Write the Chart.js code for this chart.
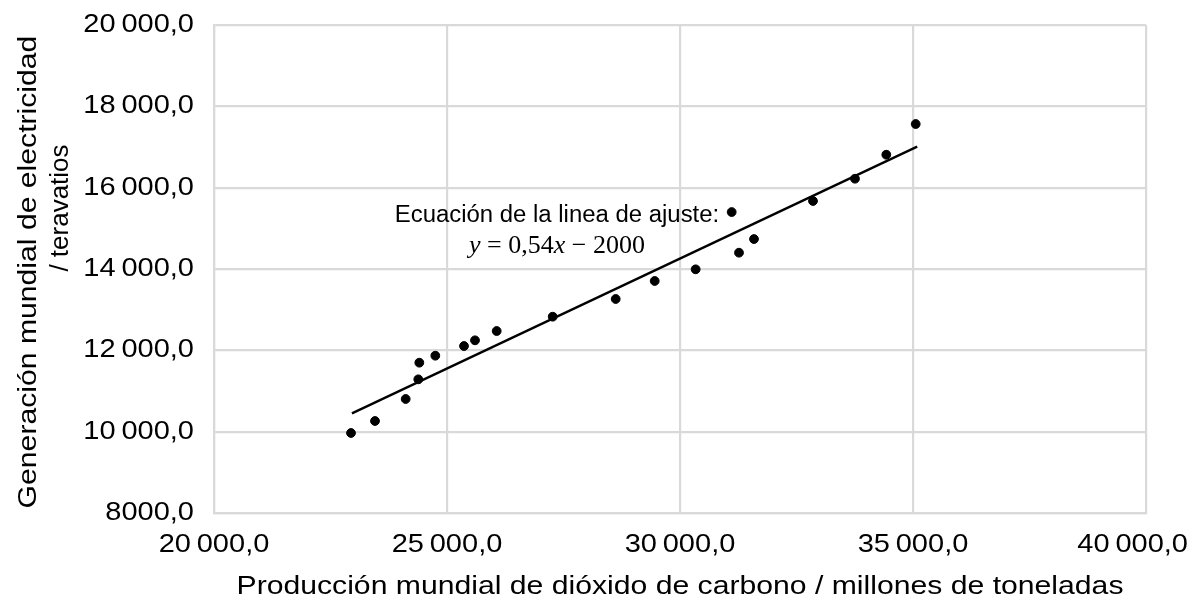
<!DOCTYPE html>
<html><head><meta charset="utf-8">
<script src="https://cdn.jsdelivr.net/npm/chart.js@4.4.0/dist/chart.umd.min.js"></script>
<style>html,body{margin:0;padding:0;background:#fff}#wrap{width:1196px;height:598px;position:relative}</style>
</head><body><div id="wrap"><canvas id="c" width="1196" height="598"></canvas></div>
<script>
// ---- data ----
const co2 = [22940, 23455, 24113, 24384, 24406, 24749, 25365, 25601, 26066, 27268, 28620, 29457, 30336, 31109, 31266, 31588, 32854, 33755, 34427, 35058];
const electricity = [9967, 10262, 10803, 11287, 11696, 11868, 12106, 12246, 12475, 12827, 13262, 13705, 13992, 15401, 14401, 14737, 15672, 16220, 16810, 17565];
const fitX = [22960, 35090];
const fitY = [10450, 17010];
const xTicks = [20000, 25000, 30000, 35000, 40000];
const yTicks = [8000, 10000, 12000, 14000, 16000, 18000, 20000];
const xTitle = 'Producción mundial de dióxido de carbono / millones de toneladas';
const yTitle = ['Generación mundial de electricidad', '/ teravatios'];
const noteLabel = 'Ecuación de la linea de ajuste:';
const noteEquation = [['y', true], [' = 0,54', false], ['x', true], [' \u2212 2000', false]];
const noteAnchor = { x: 27360, labelY: 15155, eqY: 14400 };

const SANS = '"Liberation Sans", Arial, sans-serif';
const SERIF = '"Liberation Serif", "Times New Roman", serif';
const GRID = '#d9d9d9';

// ---- wide text rendering (reference text is horizontally stretched) ----
const canvas = document.getElementById('c');
const g = canvas.getContext('2d');
let STRETCH = 1.16;
const EDGE = 8;
const origFill = g.fillText.bind(g);
const origMeasure = g.measureText.bind(g);
g.fillText = function (text, x, y) {
  const t = g.getTransform();
  if (t.b === 0 && t.c === 0 && g.textAlign === 'center') {
    const w = origMeasure(text).width * STRETCH;
    const maxX = canvas.width - EDGE - w / 2;
    if (t.e + x > maxX) x = maxX - t.e;
  }
  if (STRETCH === 1) { origFill(text, x, y); return; }
  g.save();
  g.translate(x, y);
  g.scale(STRETCH, 1);
  origFill(text, 0, 0);
  g.restore();
};
g.measureText = function (text) {
  const m = origMeasure(text);
  return {
    width: m.width * STRETCH,
    actualBoundingBoxAscent: m.actualBoundingBoxAscent,
    actualBoundingBoxDescent: m.actualBoundingBoxDescent,
    actualBoundingBoxLeft: m.actualBoundingBoxLeft * STRETCH,
    actualBoundingBoxRight: m.actualBoundingBoxRight * STRETCH,
    fontBoundingBoxAscent: m.fontBoundingBoxAscent,
    fontBoundingBoxDescent: m.fontBoundingBoxDescent
  };
};

function fmt(v) {
  const n = Math.round(v);
  let s = String(n);
  if (n >= 10000) s = s.replace(/\B(?=(\d{3})+(?!\d))/g, '\u2009');
  return s + ',0';
}

const textPlugin = {
  id: 'texts',
  afterDraw(chart) {
    const ctx = chart.ctx;
    const xs = chart.scales.x, ys = chart.scales.y;
    const ca = chart.chartArea;
    ctx.save();
    ctx.fillStyle = '#000';
    // x title
    STRETCH = 1.16;
    ctx.font = '26px ' + SANS;
    ctx.textAlign = 'center';
    ctx.textBaseline = 'alphabetic';
    ctx.fillText(xTitle, (ca.left + ca.right) / 2, 594);
    // y title
    ctx.save();
    ctx.translate(36, 272);
    ctx.rotate(-Math.PI / 2);
    ctx.fillText(yTitle[0], 0, 0);
    ctx.restore();
    STRETCH = 1;
    ctx.save();
    ctx.translate(68, 208);
    ctx.rotate(-Math.PI / 2);
    ctx.fillText(yTitle[1], 0, 0);
    ctx.restore();
    // annotation
    STRETCH = 1.04;
    const cx = xs.getPixelForValue(noteAnchor.x);
    ctx.font = '23px ' + SANS;
    ctx.textAlign = 'center';
    ctx.fillText(noteLabel, cx, ys.getPixelForValue(noteAnchor.labelY));
    // equation
    STRETCH = 1;
    ctx.textAlign = 'left';
    const fonts = noteEquation.map(p => (p[1] ? 'italic ' : '') + '26px ' + SERIF);
    let total = 0;
    const widths = noteEquation.map((p, i) => { ctx.font = fonts[i]; const w = ctx.measureText(p[0]).width; total += w; return w; });
    let x = cx - total / 2;
    const by = ys.getPixelForValue(noteAnchor.eqY);
    noteEquation.forEach((p, i) => { ctx.font = fonts[i]; ctx.fillText(p[0], x, by); x += widths[i]; });
    ctx.restore();
    STRETCH = 1.16;
  }
};

function noPad(s) { s.paddingLeft = 0; s.paddingRight = 0; s.paddingTop = 0; s.paddingBottom = 0; }

new Chart(g, {
  type: 'scatter',
  data: {
    datasets: [
      {
        label: 'Datos',
        data: co2.map((v, i) => ({ x: v, y: electricity[i] })),
        backgroundColor: '#000',
        borderColor: '#000',
        pointRadius: 4.4,
        pointHoverRadius: 4.4,
        order: 1
      },
      {
        label: 'Ajuste',
        type: 'line',
        data: fitX.map((v, i) => ({ x: v, y: fitY[i] })),
        borderColor: '#000',
        borderWidth: 2.3,
        pointRadius: 0,
        fill: false,
        order: 2
      }
    ]
  },
  options: {
    responsive: false,
    animation: false,
    devicePixelRatio: 1,
    layout: { padding: { left: 0, right: 50, top: 25, bottom: 0 } },
    plugins: { legend: { display: false }, tooltip: { enabled: false } },
    scales: {
      x: {
        type: 'linear',
        min: 20000, max: 40000,
        afterBuildTicks(s) { s.ticks = xTicks.map(v => ({ value: v })); },
        afterFit(s) { s.height = 85; noPad(s); },
        grid: { color: GRID, lineWidth: 2.2, drawTicks: false },
        border: { display: true, color: GRID, width: 2.2 },
        ticks: { color: '#000', padding: 17, maxRotation: 0, font: { size: 25, family: SANS }, callback: v => fmt(v) }
      },
      y: {
        type: 'linear',
        min: 8000, max: 20000,
        afterBuildTicks(s) { s.ticks = yTicks.map(v => ({ value: v })); },
        afterFit(s) { s.width = 214; noPad(s); },
        grid: { color: GRID, lineWidth: 2.2, drawTicks: false },
        border: { display: true, color: GRID, width: 2.2 },
        ticks: { color: '#000', padding: 20, font: { size: 25, family: SANS }, callback: v => fmt(v) }
      }
    }
  },
  plugins: [textPlugin]
});
</script></body></html>
